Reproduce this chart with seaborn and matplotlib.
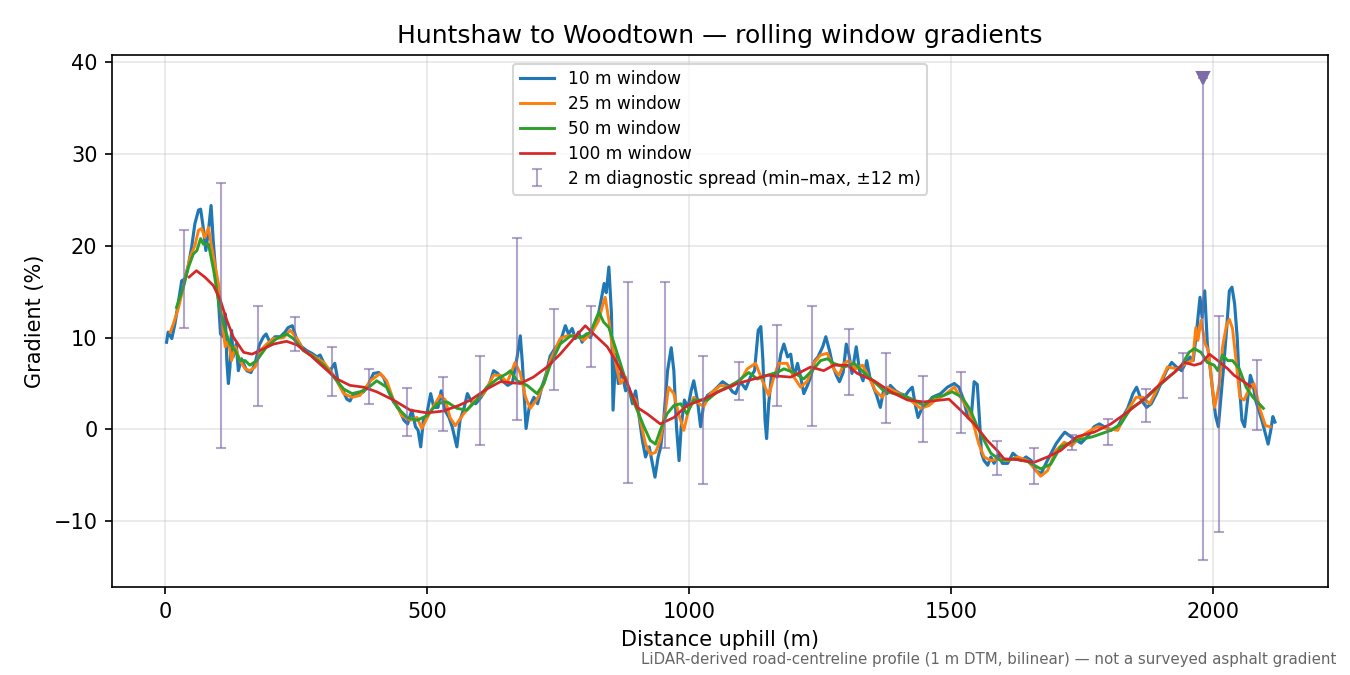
import matplotlib
matplotlib.use("Agg")
import matplotlib.pyplot as plt
import seaborn as sns

# rolling window gradients (distance m, gradient %)
d10 = [3, 6, 13, 19, 25, 32, 38, 45, 51, 57, 64, 68, 73, 78, 83, 88, 92, 97, 102, 106, 111, 115, 118, 121, 124, 127,
       130, 136, 140, 146, 156, 164, 172, 180, 188, 193, 200, 210, 220, 229, 235, 243, 251, 261, 270, 280, 290, 296,
       306, 315, 324, 331, 339, 347, 353, 360, 366, 379, 388, 398, 408, 417, 427, 436, 446, 456, 463, 471, 478, 483,
       488, 493, 499, 507, 513, 521, 527, 534, 542, 548, 557, 563, 571, 577, 585, 593, 603, 610, 619, 627, 635, 644,
       654, 663, 672, 678, 682, 689, 695, 704, 711, 719, 727, 735, 745, 754, 764, 770, 777, 783, 789, 796, 804, 812,
       818, 825, 831, 838, 842, 847, 852, 855, 860, 865, 871, 879, 885, 892, 898, 904, 911, 917, 924, 930, 935, 941,
       946, 952, 959, 966, 971, 976, 981, 985, 991, 998, 1004, 1009, 1016, 1022, 1028, 1035, 1045, 1054, 1064, 1074,
       1083, 1089, 1098, 1108, 1117, 1125, 1132, 1137, 1141, 1145, 1148, 1152, 1157, 1162, 1168, 1175, 1181, 1188,
       1194, 1200, 1207, 1213, 1219, 1226, 1232, 1240, 1246, 1255, 1261, 1268, 1274, 1281, 1287, 1294, 1300, 1305,
       1311, 1319, 1326, 1332, 1339, 1345, 1352, 1358, 1365, 1371, 1378, 1384, 1394, 1403, 1413, 1419, 1426, 1432,
       1437, 1445, 1455, 1464, 1480, 1493, 1506, 1515, 1524, 1532, 1538, 1544, 1550, 1554, 1558, 1563, 1570, 1576,
       1582, 1590, 1598, 1608, 1618, 1626, 1634, 1643, 1653, 1662, 1672, 1681, 1691, 1700, 1710, 1717, 1729, 1748,
       1760, 1773, 1783, 1792, 1805, 1818, 1828, 1837, 1847, 1854, 1863, 1873, 1882, 1892, 1901, 1911, 1921, 1930,
       1940, 1947, 1956, 1962, 1968, 1975, 1979, 1984, 1989, 1995, 2001, 2005, 2010, 2015, 2020, 2026, 2031, 2036,
       2041, 2046, 2050, 2055, 2060, 2065, 2071, 2076, 2081, 2087, 2093, 2100, 2105, 2110, 2114, 2118]
g10 = [9.5, 10.6, 9.9, 11.5, 13.7, 16.2, 16.4, 18.0, 19.9, 22.4, 23.9, 24.0, 22.0, 19.5, 21.7, 24.4, 20.6, 17.0, 14.1,
       10.4, 10.1, 12.6, 7.5, 5.0, 6.8, 10.8, 7.9, 9.3, 6.4, 7.7, 6.4, 6.2, 7.2, 9.2, 10.1, 10.4, 9.5, 10.1, 10.1, 10.6,
       11.1, 11.3, 9.9, 9.0, 8.6, 8.3, 7.9, 8.1, 6.9, 6.4, 7.2, 5.0, 4.3, 3.3, 3.1, 3.9, 3.7, 4.1, 4.9, 6.1, 6.2, 5.7,
       4.1, 3.0, 2.3, 1.0, 0.6, 2.1, 0.3, -0.1, -1.9, 1.0, 1.5, 3.9, 2.4, 2.4, 4.2, 2.1, 1.3, 0.3, -1.9, 1.0, 2.4, 3.9,
       3.0, 2.8, 3.5, 4.1, 4.9, 6.4, 6.1, 5.3, 4.8, 5.1, 7.9, 10.2, 7.2, 0.1, 2.4, 3.5, 2.8, 4.6, 6.0, 8.0, 8.9, 9.5,
       11.3, 10.4, 11.0, 9.9, 10.6, 9.5, 10.4, 10.0, 11.1, 11.9, 13.7, 15.9, 14.9, 17.7, 12.6, 2.1, 8.2, 5.0, 6.4, 4.2,
       4.6, 2.8, 4.2, 1.7, -1.2, -3.0, -1.9, -3.7, -5.2, -3.0, -1.9, 1.3, 6.4, 8.9, 6.4, 0.3, -3.4, 0.3, 3.2, 2.4, 4.2,
       5.3, 3.2, 0.3, 2.8, 3.7, 4.1, 4.6, 5.2, 4.8, 4.1, 3.9, 5.2, 4.4, 5.7, 6.4, 10.8, 11.2, 7.5, 1.0, -1.0, 2.8, 5.7,
       6.1, 5.7, 8.2, 9.3, 7.9, 8.2, 5.7, 7.2, 5.7, 3.9, 4.8, 5.7, 7.5, 7.9, 9.0, 10.1, 8.6, 7.0, 5.9, 5.2, 6.2, 9.3,
       8.2, 6.1, 9.0, 6.2, 5.3, 7.5, 5.7, 4.6, 3.7, 2.4, 4.2, 3.9, 4.8, 4.2, 3.9, 3.7, 4.2, 4.6, 2.6, 1.3, 2.4, 2.8,
       3.5, 3.9, 4.6, 5.0, 4.6, 3.2, 1.3, 1.0, 5.2, 4.9, 1.3, -2.6, -3.4, -3.9, -3.0, -3.7, -2.8, -3.7, -3.7, -2.6,
       -3.0, -3.4, -3.0, -3.4, -4.5, -4.8, -3.7, -2.6, -1.6, -0.8, -0.3, -0.8, -1.5, -0.8, 0.3, 0.6, 0.3, -0.1, 0.3,
       1.4, 2.3, 3.9, 4.6, 3.2, 2.4, 2.8, 3.9, 5.1, 6.4, 7.3, 6.8, 6.4, 7.2, 7.9, 7.5, 10.4, 14.4, 12.2, 15.1, 9.3,
       6.4, 3.2, 1.4, 0.3, 3.5, 6.8, 11.1, 15.1, 15.5, 13.7, 10.0, 5.0, 1.0, 0.3, 2.8, 5.9, 5.0, 3.2, 2.1, 1.0, -0.5,
       -1.6, -0.1, 1.4, 0.8]

d25 = [10, 16, 26, 35, 48, 57, 64, 70, 76, 83, 89, 96, 102, 108, 115, 121, 127, 134, 143, 153, 162, 172, 182, 194,
       207, 226, 239, 252, 264, 283, 303, 322, 341, 357, 372, 392, 411, 423, 436, 452, 468, 481, 490, 506, 525, 535,
       544, 554, 570, 589, 608, 627, 640, 653, 668, 678, 688, 697, 710, 723, 735, 754, 767, 786, 799, 815, 828, 834,
       840, 847, 853, 863, 869, 879, 888, 898, 907, 917, 926, 936, 945, 955, 961, 971, 980, 990, 999, 1009, 1019,
       1028, 1041, 1060, 1079, 1098, 1111, 1127, 1140, 1152, 1162, 1171, 1187, 1200, 1213, 1226, 1238, 1251, 1264,
       1276, 1286, 1296, 1305, 1318, 1331, 1343, 1356, 1369, 1378, 1394, 1410, 1426, 1442, 1458, 1470, 1486, 1506,
       1518, 1534, 1544, 1553, 1563, 1576, 1595, 1608, 1627, 1646, 1662, 1671, 1684, 1700, 1716, 1730, 1743, 1760,
       1779, 1798, 1818, 1837, 1853, 1866, 1879, 1895, 1913, 1932, 1948, 1961, 1967, 1971, 1977, 1985, 1991, 1997,
       2003, 2012, 2018, 2026, 2031, 2037, 2043, 2051, 2059, 2068, 2078, 2090, 2100, 2109]
g25 = [10.6, 11.5, 13.3, 15.5, 18.8, 20.0, 21.7, 21.9, 20.9, 22.0, 19.9, 17.7, 15.9, 12.2, 9.0, 9.7, 7.5, 9.0, 7.5,
       6.6, 6.4, 6.8, 8.6, 9.3, 9.9, 10.0, 10.8, 9.9, 8.6, 8.0, 7.3, 5.9, 3.9, 3.5, 3.7, 5.3, 6.1, 5.3, 3.2, 1.5, 1.0,
       1.3, 0.1, 1.9, 3.7, 3.2, 1.3, 0.4, 1.7, 3.0, 3.9, 5.9, 5.9, 5.1, 7.3, 6.1, 3.5, 2.3, 3.3, 5.0, 7.5, 9.9, 10.2,
       10.2, 9.7, 10.6, 11.9, 13.3, 14.4, 11.9, 9.3, 6.4, 5.0, 5.7, 3.9, 3.2, 1.0, -1.6, -2.7, -2.5, -1.2, 2.1, 4.6,
       3.9, 1.7, -0.1, 2.1, 3.5, 2.8, 2.5, 3.9, 4.8, 4.6, 5.3, 6.6, 7.2, 5.3, 3.7, 5.7, 7.2, 7.2, 5.7, 4.6, 5.3, 7.2,
       8.1, 8.3, 6.6, 5.9, 7.2, 7.5, 6.6, 7.0, 5.7, 4.2, 3.5, 4.6, 4.1, 3.7, 3.0, 2.3, 2.6, 3.2, 3.7, 4.6, 3.5, 2.1,
       0.3, -1.6, -3.0, -3.4, -3.2, -3.4, -3.0, -3.4, -4.5, -5.1, -4.5, -2.3, -1.4, -1.8, -1.0, -0.3, 0.3, 0.1, -0.1,
       2.1, 3.5, 3.5, 2.8, 4.6, 6.8, 6.6, 7.2, 7.5, 11.1, 9.7, 11.9, 9.3, 8.6, 5.3, 2.4, 5.0, 9.0, 11.5, 12.0, 11.0,
       7.9, 3.5, 3.2, 4.3, 5.0, 2.1, 0.4, 0.3]

d50 = [22, 35, 45, 54, 61, 68, 73, 83, 93, 99, 105, 115, 124, 134, 143, 153, 162, 175, 194, 213, 232, 245, 264, 283,
       303, 322, 341, 357, 372, 385, 404, 423, 443, 462, 481, 500, 519, 538, 557, 576, 595, 614, 634, 653, 659, 672,
       691, 710, 723, 735, 754, 774, 793, 812, 828, 837, 847, 859, 875, 888, 901, 914, 926, 936, 945, 958, 971, 984,
       996, 1009, 1022, 1035, 1054, 1073, 1092, 1114, 1130, 1149, 1168, 1181, 1200, 1219, 1238, 1251, 1264, 1276,
       1296, 1315, 1334, 1353, 1372, 1391, 1410, 1429, 1448, 1467, 1486, 1502, 1521, 1537, 1550, 1563, 1576, 1595,
       1620, 1646, 1671, 1690, 1709, 1738, 1770, 1805, 1824, 1843, 1868, 1894, 1919, 1938, 1954, 1964, 1977, 1989,
       2002, 2009, 2018, 2028, 2037, 2050, 2063, 2076, 2096]
g50 = [13.3, 15.5, 17.7, 19.1, 19.5, 20.8, 20.2, 20.2, 17.3, 15.1, 13.0, 10.8, 9.3, 8.6, 7.5, 7.5, 7.0, 7.5, 9.0, 9.9,
       10.4, 9.9, 8.6, 7.9, 7.0, 5.7, 4.4, 3.9, 4.1, 4.4, 5.3, 4.6, 2.4, 1.3, 1.0, 1.5, 2.8, 3.0, 2.3, 2.1, 3.2, 4.6,
       5.5, 6.1, 6.4, 5.3, 4.8, 3.9, 5.0, 7.0, 9.3, 10.2, 10.0, 10.6, 12.8, 11.7, 11.1, 9.0, 6.1, 3.9, 2.1, 0.3, -1.2,
       -1.6, -0.1, 1.7, 2.6, 2.8, 1.7, 3.2, 3.2, 3.2, 4.1, 4.6, 5.2, 6.2, 5.5, 5.9, 6.2, 6.6, 6.2, 5.5, 6.6, 7.5, 7.7,
       7.2, 6.8, 7.2, 6.2, 5.2, 4.2, 3.9, 3.7, 3.2, 2.6, 3.5, 3.7, 4.1, 3.5, 2.1, 0.3, -1.2, -2.6, -3.4, -3.2, -3.5,
       -4.3, -3.8, -1.9, -1.2, -0.8, -0.1, 0.6, 2.3, 3.2, 4.6, 5.9, 6.8, 8.4, 8.8, 8.4, 7.3, 7.0, 6.4, 8.1, 7.5, 7.5,
       6.6, 4.6, 3.5, 2.3]

d100 = [46, 60, 76, 92, 105, 118, 130, 150, 166, 181, 207, 232, 252, 277, 302, 328, 353, 379, 404, 436, 468, 500, 531,
        560, 583, 614, 640, 678, 703, 729, 754, 780, 802, 818, 844, 863, 882, 901, 920, 945, 971, 996, 1028, 1060,
        1092, 1124, 1150, 1194, 1232, 1257, 1276, 1302, 1321, 1353, 1385, 1417, 1448, 1480, 1496, 1518, 1544, 1569,
        1588, 1601, 1627, 1658, 1684, 1709, 1740, 1773, 1805, 1837, 1868, 1900, 1926, 1945, 1964, 1977, 1993, 2009,
        2028, 2040, 2056, 2071]
g100 = [16.6, 17.3, 16.6, 15.7, 14.2, 11.9, 10.1, 8.4, 8.2, 8.6, 9.3, 9.6, 9.2, 8.1, 6.8, 5.5, 4.8, 4.6, 4.1, 3.2, 2.1,
        1.8, 2.0, 2.6, 3.2, 4.4, 5.2, 5.0, 5.7, 6.8, 8.2, 9.9, 11.3, 10.4, 9.0, 7.2, 5.0, 2.4, 1.7, 0.6, 1.3, 2.6, 3.3,
        4.2, 5.0, 5.5, 5.9, 5.7, 6.8, 6.4, 7.0, 7.0, 6.1, 5.3, 4.1, 3.2, 3.0, 3.2, 3.3, 2.1, 0.6, -1.2, -2.3, -3.2, -3.3,
        -3.6, -3.0, -2.3, -0.8, -0.3, 0.6, 1.9, 3.3, 5.0, 6.2, 7.3, 7.0, 7.2, 8.2, 7.5, 6.6, 5.9, 5.3, 4.7]

# 2 m diagnostic spread (min-max within +-12 m)
spread_x = [36, 107, 178, 248, 318, 390, 461, 530, 601, 672, 743, 813, 884, 955, 1026, 1096, 1167, 1235, 1306, 1376,
            1447, 1518, 1588, 1659, 1730, 1800, 1872, 1942, 1981, 2012, 2084]
spread_lo = [11.1, -2.0, 2.6, 8.5, 3.6, 2.8, -0.7, -0.2, -1.7, 1.0, 4.3, 6.8, -5.8, -2.0, -6.0, 3.2, 2.5, 0.4, 3.8,
             0.7, -1.4, -0.4, -5.0, -5.9, -2.2, -1.7, 0.8, 3.4, -14.2, -11.2, -0.1]
spread_hi = [21.7, 26.9, 13.4, 12.2, 9.0, 6.6, 4.5, 5.7, 8.0, 20.9, 13.1, 13.5, 16.1, 16.1, 8.0, 7.4, 11.4, 13.4, 10.9,
             8.3, 5.8, 6.3, -1.3, -2.0, -0.6, 1.1, 4.4, 8.3, 38.3, 12.4, 7.6]
spread_cap = 38.3

series = [
    (d10, g10, "10 m window", "#1f77b4", 1.5),
    (d25, g25, "25 m window", "#ff7f0e", 1.4),
    (d50, g50, "50 m window", "#2ca02c", 1.4),
    (d100, g100, "100 m window", "#d62728", 1.3),
]

fig, ax = plt.subplots(figsize=(9, 4.5), dpi=150)

for d, g, lab, col, lw in series:
    sns.lineplot(x=d, y=g, ax=ax, label=lab, color=col, linewidth=lw, estimator=None, sort=False)

mid = [(lo + hi) / 2 for lo, hi in zip(spread_lo, spread_hi)]
err = [[m - lo for m, lo in zip(mid, spread_lo)], [hi - m for m, hi in zip(mid, spread_hi)]]
ax.errorbar(spread_x, mid, yerr=err, fmt="none", ecolor="#7f6aa8", alpha=0.6, elinewidth=1.0,
            capsize=2.5, label="2 m diagnostic spread (min\u2013max, \u00b112 m)")

flag_x = [x for x, h in zip(spread_x, spread_hi) if h >= spread_cap]
ax.plot(flag_x, [spread_cap] * len(flag_x), ls="none", marker="v", ms=6, color="#7f6aa8")

ax.set_xlim(-101, 2220)
ax.set_ylim(-17.2, 40.8)
ax.grid(alpha=0.3)
ax.set_xlabel("Distance uphill (m)")
ax.set_ylabel("Gradient (%)")
ax.set_title("Huntshaw to Woodtown \u2014 rolling window gradients", fontsize=12)
ax.legend(loc="upper center", fontsize=8.2, labelspacing=0.4)

fig.text(0.99, 0.012, "LiDAR-derived road-centreline profile (1 m DTM, bilinear) \u2014 not a surveyed asphalt gradient",
         ha="right", va="bottom", fontsize=7.2, color="#666666")

fig.subplots_adjust(left=0.083, right=0.984, top=0.9185, bottom=0.130)
fig.savefig("out.png", dpi=150)
